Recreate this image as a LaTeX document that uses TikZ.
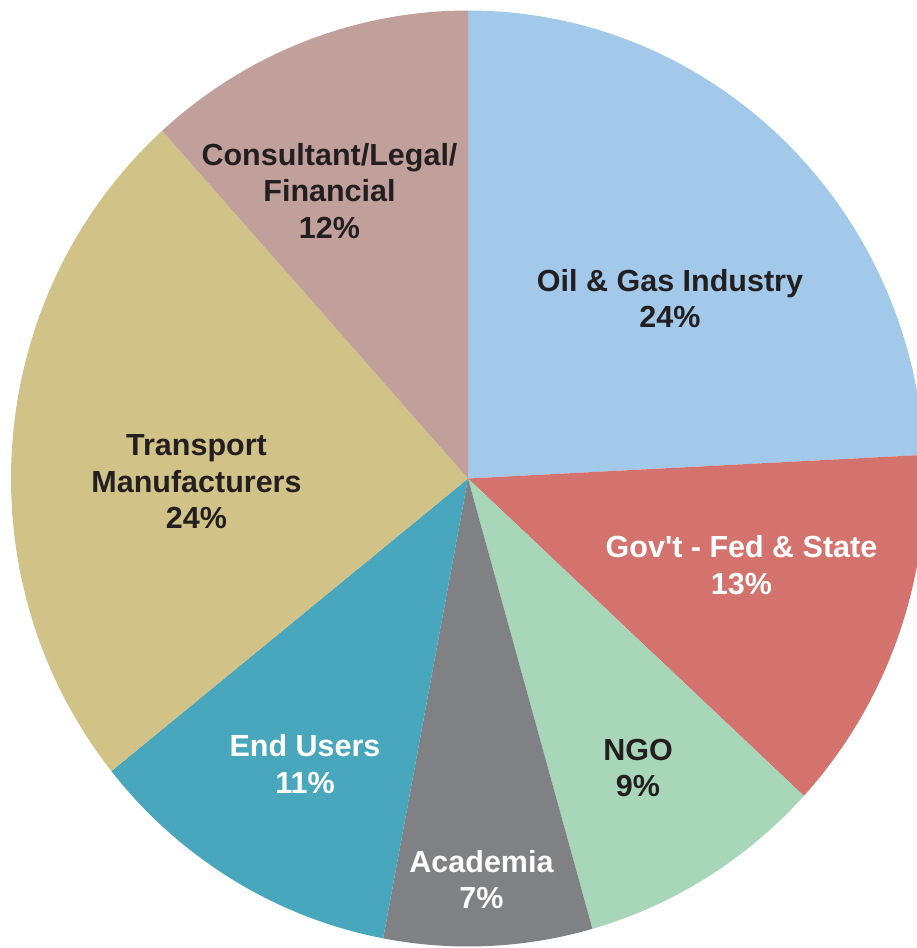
\documentclass[tikz,border=0pt]{standalone}
\usepackage{fontspec}
\setmainfont{Liberation Sans}[Ligatures=TeXOff]
\definecolor{oilc}{RGB}{162,200,234}
\definecolor{govc}{RGB}{212,114,110}
\definecolor{ngoc}{RGB}{168,214,184}
\definecolor{acac}{RGB}{128,129,133}
\definecolor{endc}{RGB}{72,167,188}
\definecolor{trac}{RGB}{209,195,136}
\definecolor{conc}{RGB}{193,160,156}
\definecolor{darktxt}{RGB}{35,31,32}
\tikzset{
  lbl/.style={align=center, inner sep=0pt, font=\fontsize{30.5}{36.5}\selectfont\bfseries, text=darktxt},
  wlbl/.style={lbl, text=white},
}
\newcommand{\pieslice}[3]{%
  \fill[#3] (C) -- ++({457*cos(#1)},{468*sin(#1)})
    arc[start angle=#1, end angle=#2, x radius=457pt, y radius=468pt] -- cycle;}
\begin{document}
\begin{tikzpicture}[x=1pt,y=1pt]
\useasboundingbox (0,0) rectangle (917,-948);
\clip (0,0) rectangle (917,-948);
\coordinate (C) at (468,-478.5);
\pieslice{90}{2.9}{oilc}
\pieslice{2.9}{-42.7}{govc}
\pieslice{-42.7}{-74.2}{ngoc}
\pieslice{-74.2}{-100.7}{acac}
\pieslice{-100.7}{-141.3}{endc}
\pieslice{-141.3}{-228}{trac}
\pieslice{-228}{-270}{conc}
\node[lbl] (oil) at (670,-298.5) {Oil \& Gas Industry\\24\%};
\node[wlbl] (gov) at (741.5,-565) {Gov't - Fed \& State\\13\%};
\node[lbl] (ngo) at (638,-768) {NGO\\9\%};
\node[wlbl] (aca) at (481.5,-879.5) {Academia\\7\%};
\node[wlbl] (end) at (305,-764) {End Users\\11\%};
\node[lbl] (tra) at (196.5,-482) {Transport\\Manufacturers\\24\%};
\node[lbl] (con) at (329.5,-191) {Consultant/Legal/\\Financial\\12\%};
\end{tikzpicture}
\end{document}
